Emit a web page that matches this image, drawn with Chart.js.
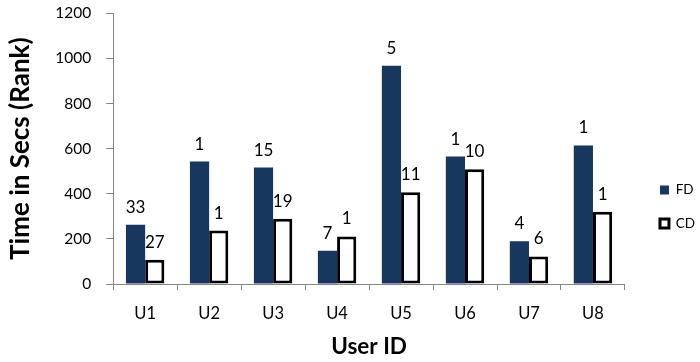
<!DOCTYPE html>
<html>
<head>
<meta charset="utf-8">
<script src="https://cdn.jsdelivr.net/npm/chart.js@4/dist/chart.umd.min.js"></script>
<style>
  html, body { margin: 0; padding: 0; background: #ffffff; }
  #wrap { width: 700px; height: 362px; }
</style>
</head>
<body>
<div id="wrap"><canvas id="chart"></canvas></div>
<script>
// Completion time per user for the two methods, with the rank printed above each bar
const users   = ['U1', 'U2', 'U3', 'U4', 'U5', 'U6', 'U7', 'U8'];
const fdTimes = [263, 543, 516, 147, 968, 565, 190, 614];
const cdTimes = [107, 237, 289, 211, 407, 509, 122, 320];
const fdRanks = [33, 1, 15, 7, 5, 1, 4, 1];
const cdRanks = [27, 1, 19, 1, 11, 10, 6, 1];
const yTicks  = [0, 200, 400, 600, 800, 1000, 1200];

const FONT = 'Lato';
const AXIS_GREY = '#868686';

// Rank text above every bar
const rankLabels = {
  id: 'rankLabels',
  afterDatasetsDraw(chart) {
    const ctx = chart.ctx;
    const ranks = [fdRanks, cdRanks];
    ctx.save();
    ctx.font = '17px ' + FONT;
    ctx.fillStyle = '#000';
    ctx.textAlign = 'center';
    ctx.textBaseline = 'alphabetic';
    chart.data.datasets.forEach((ds, i) => {
      chart.getDatasetMeta(i).data.forEach((bar, j) => {
        ctx.fillText(String(ranks[i][j]), bar.x, bar.y - 12);
      });
    });
    ctx.restore();
  }
};

// Moves the legend block down beside the lower half of the plot
const legendPlacement = {
  id: 'legendPlacement',
  afterLayout(chart) {
    const lg = chart.legend;
    if (!lg) return;
    const dx = 15, dy = 150;
    lg.left += dx; lg.right += dx;
    lg.top += dy; lg.bottom += dy;
  }
};

new Chart(document.getElementById('chart'), {
  type: 'bar',
  data: {
    labels: users,
    datasets: [
      {
        label: 'FD',
        data: fdTimes,
        backgroundColor: '#17375E',
        borderWidth: 0,
        categoryPercentage: 0.6,
        barPercentage: 1.0
      },
      {
        label: 'CD',
        data: cdTimes,
        backgroundColor: '#ffffff',
        borderColor: '#000000',
        borderWidth: 3,
        borderSkipped: false,
        categoryPercentage: 0.6,
        barPercentage: 1.0
      }
    ]
  },
  options: {
    responsive: true,
    maintainAspectRatio: false,
    animation: false,
    layout: { padding: { top: 13.3, left: 0, right: 10, bottom: 0 } },
    plugins: {
      tooltip: { enabled: false },
      legend: {
        position: 'right',
        align: 'start',
        labels: {
          font: { family: FONT, size: 13.5 },
          color: '#000',
          boxWidth: 9,
          boxHeight: 9,
          padding: 20
        }
      }
    },
    scales: {
      x: {
        afterFit(scale) {
          scale.height = 78;
        },
        grid: {
          display: true,
          drawOnChartArea: false,
          drawTicks: true,
          tickLength: 6,
          color: AXIS_GREY,
          offset: true
        },
        border: { display: true, color: AXIS_GREY, width: 1 },
        ticks: {
          font: { family: FONT, size: 16.5 },
          color: '#000',
          padding: 14
        },
        title: {
          display: true,
          text: 'User ID',
          font: { family: FONT, size: 22.5, weight: 'bold' },
          color: '#000',
          padding: { top: 2, bottom: 1.5 }
        }
      },
      y: {
        min: 0,
        max: 1200,
        afterBuildTicks(scale) {
          scale.ticks = yTicks.map(v => ({ value: v }));
        },
        afterFit(scale) {
          scale.paddingTop = 0;
          scale.paddingBottom = 0;
        },
        grid: {
          display: true,
          drawOnChartArea: false,
          drawTicks: true,
          tickLength: 7,
          color: AXIS_GREY
        },
        border: { display: true, color: AXIS_GREY, width: 1 },
        ticks: {
          font: { family: FONT, size: 15.5 },
          color: '#000',
          padding: 15,
          callback: v => String(v)
        },
        title: {
          display: true,
          text: 'Time in Secs (Rank)',
          font: { family: FONT, size: 26, weight: 'bold' },
          color: '#000',
          padding: { top: 5, bottom: 4 }
        }
      }
    }
  },
  plugins: [rankLabels, legendPlacement]
});
</script>
</body>
</html>
